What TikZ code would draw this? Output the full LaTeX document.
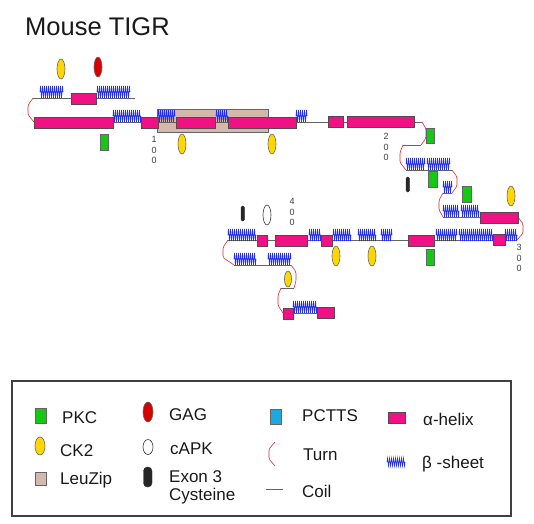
\documentclass[tikz,border=0pt]{standalone}
\usepackage{fontspec}
\setmainfont{Liberation Sans}
\usetikzlibrary{decorations.pathmorphing}
\definecolor{hpink}{RGB}{240,18,132}
\definecolor{hborder}{RGB}{90,70,80}
\definecolor{pkcgreen}{RGB}{20,200,20}
\definecolor{ckyellow}{RGB}{255,214,0}
\definecolor{leutan}{RGB}{212,184,172}
\definecolor{gagred}{RGB}{215,0,0}
\definecolor{pcblue}{RGB}{30,168,224}
\definecolor{betablue}{RGB}{35,45,240}
\definecolor{turnred}{RGB}{225,40,40}
\definecolor{coilgray}{RGB}{100,100,100}
\newcommand\helixbox[3]{\draw[helix] (#1,{#3-5.5}) rectangle (#2,{#3+5.5});}
\newcommand\betastrand[3]{\draw[beta] (#1,{#3-6}) -- (#2,{#3-6});}
\newcommand\turnpath[5]{\draw[turn] (#1,#2) -- (#5,{#2+0.3*(#4-#2)}) -- (#5,{#4-0.3*(#4-#2)}) -- (#3,#4);}
\newcommand\pkcbox[4]{\draw[pkc] (#1,#3) rectangle (#2,#4);}
\newcommand\ckdot[2]{\draw[ck] (#1,#2) ellipse [x radius=4pt, y radius=10pt];}
\begin{document}
\begin{tikzpicture}[x=1pt,y=-1pt,
  helix/.style={fill=hpink, draw=hborder, line width=0.7pt},
  beta/.style={draw=betablue, line width=0.6pt, decorate, decoration={zigzag, segment length=2pt, amplitude=6pt}},
  turn/.style={draw=turnred, line width=0.6pt, rounded corners=1.5pt},
  coil/.style={draw=coilgray, line width=0.7pt},
  pkc/.style={fill=pkcgreen, draw=coilgray, line width=0.7pt},
  ck/.style={fill=ckyellow, draw=coilgray, line width=0.6pt},
  gag/.style={fill=gagred, draw=coilgray, line width=0.6pt},
  capk/.style={fill=white, draw=black!80, line width=0.6pt},
  exon/.style={fill=black!85, draw=black!85, rounded corners=1.5pt},
  leuzip/.style={fill=leutan, draw=coilgray, line width=0.8pt},
  digits/.style={font=\fontsize{9}{10.5}\selectfont, align=center, text=black!75, inner sep=0pt},
  legtext/.style={font=\fontsize{17}{19}\selectfont, anchor=base west, inner sep=0pt, text=black!90}]
\useasboundingbox (0,0) rectangle (534,523);

% title
\node[anchor=base west, inner sep=0pt, font=\fontsize{25.5}{28}\selectfont, text=black!90] (title) at (25,35) {Mouse TIGR};

% LeuZip background
\draw[leuzip] (157,109) rectangle (268,132);

% coil backbones
\draw[coil] (33,98) -- (135,98);
\draw[coil] (34,122) -- (422,122);
\draw[coil] (421,145) -- (403,145);
\draw[coil] (406,170) -- (452,170);
\draw[coil] (443,193) -- (452,193);
\draw[coil] (443,217) -- (518,217);
\draw[coil] (228,240) -- (517,240);
\draw[coil] (234,265) -- (291,265);
\draw[coil] (294,288) -- (281,288);
\draw[coil] (283,313) -- (334,313);

% turns
\turnpath{33}{98}{34}{122}{28}
\turnpath{422}{122}{421}{145}{426}
\turnpath{403}{145}{406}{170}{400}
\turnpath{452}{170}{452}{193}{457}
\turnpath{443}{193}{443}{217}{439}
\turnpath{518}{217}{517}{240}{523}
\turnpath{228}{240}{234}{265}{223}
\turnpath{291}{265}{294}{288}{296}
\turnpath{281}{288}{283}{313}{278}

% row 1 upper
\betastrand{40}{63}{98}
\helixbox{71}{96}{99}
\betastrand{97}{130}{98}

% row 1 lower
\helixbox{34}{113}{122.5}
\betastrand{113}{141}{122}
\helixbox{141}{158}{122.5}
\betastrand{158}{175}{122}
\helixbox{176}{215}{122.5}
\betastrand{216}{228}{122}
\helixbox{228}{296}{122.5}
\betastrand{296}{307}{122}
\helixbox{328}{343}{121.5}
\helixbox{347}{414}{121.5}

% rows 3-4
\betastrand{406}{425}{170}
\betastrand{427}{450}{170}
\betastrand{443}{452}{193}
\betastrand{443}{459}{217}
\betastrand{461}{479}{217}
\helixbox{480}{518}{217.5}

% row 5
\betastrand{228}{256}{241}
\helixbox{257}{267}{240.5}
\helixbox{275}{307}{240.5}
\betastrand{309}{321}{241}
\helixbox{321}{332}{240.5}
\betastrand{333}{351}{241}
\betastrand{358}{376}{241}
\betastrand{381}{392}{241}
\helixbox{408}{434}{240.5}
\betastrand{436}{457}{241}
\betastrand{459}{493}{241}
\helixbox{493}{505}{239.5}
\betastrand{505}{517}{241}

% row 6-7
\betastrand{234}{256}{265}
\betastrand{268}{291}{265}
\helixbox{283}{293}{313.5}
\betastrand{293}{317}{313}
\helixbox{317}{334}{312.5}

% annotations
\ckdot{61}{69}
\draw[gag] (98,67) ellipse [x radius=4pt, y radius=10pt];
\pkcbox{100}{108}{134}{150}
\ckdot{182}{144}
\ckdot{272}{144}
\pkcbox{426}{434}{128}{143}
\pkcbox{428}{437}{171}{187}
\draw[exon] (406,177) rectangle (409.5,192);
\pkcbox{462}{471}{186}{202}
\ckdot{511}{196}
\draw[exon] (241,206) rectangle (244.5,221);
\draw[capk] (267,215) ellipse [x radius=4pt, y radius=10pt];
\ckdot{336}{256}
\ckdot{372}{256}
\pkcbox{426}{434}{249}{265}
\draw[ck] (288,279) ellipse [x radius=3.5pt, y radius=8pt];

% residue numbers
\node[digits] (n100) at (154,150) {1\\0\\0};
\node[digits] (n200) at (386,147) {2\\0\\0};
\node[digits] (n300) at (519,258) {3\\0\\0};
\node[digits] (n400) at (292,212) {4\\0\\0};

% legend
\draw[draw=black!75, line width=1.2pt] (12,381) rectangle (511,516);
\draw[pkc] (35,408) rectangle (46,423);
\node[legtext] (lpkc) at (62,423) {PKC};
\draw[ck] (40,446) ellipse [x radius=5pt, y radius=9pt];
\node[legtext] (lck) at (60,456) {CK2};
\draw[leuzip] (35,472) rectangle (46,485);
\node[legtext] (lleu) at (60,484) {LeuZip};
\draw[gag] (148,412) ellipse [x radius=5pt, y radius=10pt];
\node[legtext] (lgag) at (169,420) {GAG};
\draw[capk] (148,447) ellipse [x radius=5pt, y radius=7.5pt];
\node[legtext] (lcapk) at (170,454) {cAPK};
\draw[exon, rounded corners=4pt] (143.5,467) rectangle (152,487);
\node[legtext] (lexon) at (169,482) {Exon 3};
\node[legtext] (lcys) at (169,500) {Cysteine};
\draw[fill=pcblue, draw=coilgray, line width=0.5pt] (270,409) rectangle (281,424);
\node[legtext] (lpc) at (302,421) {PCTTS};
\draw[turn] (275,442) -- (269,449) -- (269,459) -- (275,466);
\node[legtext] (lturn) at (303,460) {Turn};
\draw[coil] (266,489) -- (283,489);
\node[legtext] (lcoil) at (302,497) {Coil};
\draw[helix] (388,412) rectangle (405,423);
\node[legtext] (lhelix) at (423,425) {α-helix};
\draw[beta, decoration={zigzag, segment length=2pt, amplitude=4pt}] (387,462) -- (405,462);
\node[legtext] (lbeta) at (422,468) {β -sheet};
\end{tikzpicture}
\end{document}
